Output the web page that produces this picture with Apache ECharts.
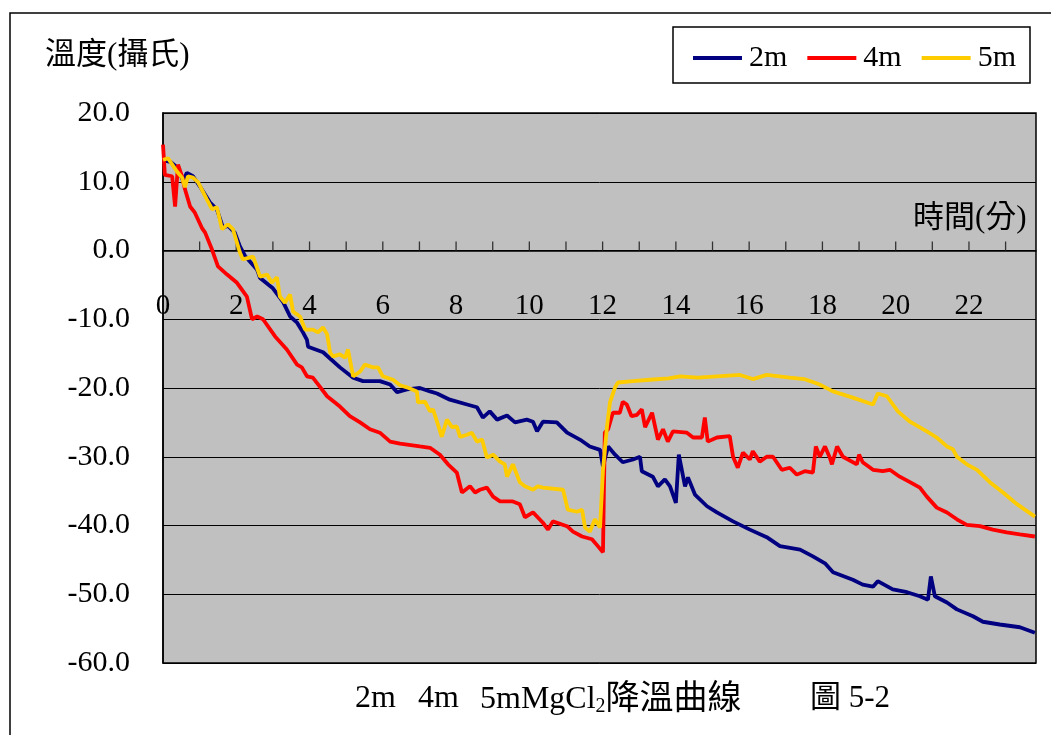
<!DOCTYPE html>
<html>
<head>
<meta charset="utf-8">
<script src="https://cdn.jsdelivr.net/npm/echarts@6/dist/echarts.min.js"></script>
<style>html,body{margin:0;padding:0;background:#fff;}#c{width:1051px;height:735px;}</style>
</head>
<body>
<div id="c"></div>
<script>
// Time (min) / temperature (°C) readings per series
var series2m = [[0,13.1],[0.2,12.9],[0.38,12.1],[0.55,10.1],[0.65,11.3],[0.82,10.8],[1.01,9.3],[1.28,7.0],[1.47,6.0],[1.64,3.3],[1.77,3.6],[1.96,2.6],[2.10,0.6],[2.24,-0.8],[2.57,-2.8],[2.65,-4.0],[3.0,-5.5],[3.28,-7.5],[3.47,-9.6],[3.66,-10.5],[3.82,-11.9],[3.93,-13.0],[3.96,-14.0],[4.37,-14.8],[4.83,-17.0],[5.19,-18.5],[5.46,-19.0],[5.92,-19.0],[6.20,-19.5],[6.39,-20.6],[6.66,-20.2],[7.01,-20.0],[7.29,-20.5],[7.48,-20.8],[7.83,-21.7],[8.30,-22.4],[8.57,-22.8],[8.73,-24.3],[8.92,-23.4],[9.12,-24.6],[9.39,-24.0],[9.61,-25.0],[9.93,-24.6],[10.10,-24.9],[10.21,-26.3],[10.37,-24.9],[10.75,-25.0],[11.03,-26.5],[11.38,-27.5],[11.65,-28.5],[11.93,-29.0],[12.01,-31.4],[12.15,-28.5],[12.34,-29.7],[12.55,-30.8],[12.83,-30.4],[13.02,-30.0],[13.07,-32.1],[13.37,-32.9],[13.51,-34.3],[13.70,-33.3],[13.84,-34.3],[14.00,-36.7],[14.08,-29.7],[14.25,-34.3],[14.33,-33.0],[14.52,-35.5],[14.85,-37.2],[15.12,-38.1],[15.56,-39.4],[16.02,-40.6],[16.48,-41.7],[16.84,-43.0],[17.39,-43.5],[17.74,-44.5],[18.07,-45.5],[18.29,-46.8],[18.83,-47.9],[19.10,-48.6],[19.38,-48.9],[19.51,-48.1],[19.92,-49.3],[20.31,-49.7],[20.66,-50.3],[20.88,-50.8],[20.96,-47.4],[21.07,-50.3],[21.40,-51.2],[21.67,-52.2],[22.11,-53.2],[22.38,-54.0],[22.84,-54.4],[23.39,-54.8],[23.80,-55.6]];
var series4m = [[0,15.4],[0.05,11.0],[0.25,10.8],[0.33,6.4],[0.41,12.5],[0.52,10.8],[0.60,8.9],[0.74,6.4],[0.87,5.5],[1.06,3.3],[1.15,2.6],[1.34,0.1],[1.50,-2.3],[1.75,-3.5],[2.02,-4.7],[2.29,-6.7],[2.43,-10.0],[2.57,-9.6],[2.73,-10.0],[3.06,-12.5],[3.38,-14.4],[3.66,-16.6],[3.79,-17.0],[3.93,-18.3],[4.09,-18.5],[4.28,-19.8],[4.48,-21.2],[4.83,-22.7],[5.10,-24.1],[5.38,-25.0],[5.65,-26.0],[5.92,-26.5],[6.20,-27.8],[6.47,-28.1],[7.01,-28.5],[7.29,-28.7],[7.56,-29.7],[7.78,-31.1],[8.02,-32.3],[8.16,-35.2],[8.38,-34.3],[8.52,-35.2],[8.65,-34.8],[8.84,-34.5],[9.01,-35.8],[9.20,-36.5],[9.55,-36.5],[9.74,-36.9],[9.88,-38.8],[10.10,-38.1],[10.37,-39.6],[10.51,-40.6],[10.64,-39.4],[11.03,-40.1],[11.19,-40.9],[11.44,-41.6],[11.71,-42.0],[11.87,-43.0],[12.01,-43.9],[12.06,-26.5],[12.15,-26.0],[12.28,-23.6],[12.47,-23.6],[12.55,-22.0],[12.66,-22.4],[12.79,-24.1],[12.94,-23.9],[13.07,-23.1],[13.16,-25.7],[13.35,-23.6],[13.51,-27.5],[13.65,-26.0],[13.78,-27.8],[13.92,-26.3],[14.30,-26.5],[14.47,-27.2],[14.71,-27.2],[14.79,-24.3],[14.87,-27.8],[15.12,-27.2],[15.47,-27.0],[15.56,-30.0],[15.69,-31.6],[15.83,-29.4],[16.02,-30.4],[16.10,-29.2],[16.29,-30.7],[16.48,-30.0],[16.65,-30.0],[16.89,-31.9],[17.11,-31.6],[17.30,-32.6],[17.52,-32.1],[17.74,-32.3],[17.82,-28.5],[17.93,-30.0],[18.07,-28.5],[18.20,-30.1],[18.26,-31.1],[18.40,-28.5],[18.56,-30.0],[18.94,-31.1],[19.00,-29.7],[19.10,-30.8],[19.38,-31.9],[19.65,-32.1],[19.84,-31.9],[20.11,-32.9],[20.39,-33.7],[20.66,-34.5],[20.85,-35.8],[21.12,-37.4],[21.40,-38.1],[21.67,-39.1],[21.94,-39.9],[22.30,-40.1],[22.65,-40.6],[23.03,-41.0],[23.39,-41.3],[23.80,-41.6]];
var series5m = [[0,13.2],[0.14,13.4],[0.38,11.5],[0.52,10.6],[0.60,9.2],[0.68,10.8],[0.82,10.6],[0.96,9.9],[1.20,7.4],[1.34,6.0],[1.47,6.3],[1.61,3.1],[1.77,3.8],[1.91,3.1],[2.10,-0.3],[2.18,-1.3],[2.46,-0.9],[2.65,-3.8],[2.84,-3.5],[2.97,-4.7],[3.11,-3.9],[3.19,-6.7],[3.33,-7.6],[3.47,-6.4],[3.55,-8.9],[3.74,-9.6],[3.88,-11.5],[4.09,-11.5],[4.23,-11.9],[4.37,-11.2],[4.48,-12.2],[4.56,-14.8],[4.64,-15.4],[4.83,-15.1],[4.97,-15.6],[5.05,-14.4],[5.19,-18.3],[5.38,-17.6],[5.51,-16.6],[5.73,-17.0],[5.87,-17.0],[6.00,-18.3],[6.28,-18.8],[6.47,-19.6],[6.66,-19.9],[6.93,-20.5],[6.96,-22.1],[7.15,-22.0],[7.29,-23.4],[7.37,-23.1],[7.48,-24.9],[7.61,-27.1],[7.75,-24.6],[7.89,-25.7],[8.02,-25.6],[8.11,-27.1],[8.30,-26.8],[8.43,-26.5],[8.57,-27.8],[8.71,-27.5],[8.84,-30.1],[9.01,-29.7],[9.20,-30.7],[9.33,-31.1],[9.39,-32.9],[9.55,-31.1],[9.74,-33.7],[9.88,-34.3],[10.10,-34.8],[10.23,-34.3],[10.37,-34.5],[10.92,-34.8],[11.05,-37.7],[11.30,-38.0],[11.44,-37.7],[11.52,-40.3],[11.65,-40.9],[11.79,-39.1],[11.93,-40.3],[12.01,-31.9],[12.12,-25.6],[12.20,-22.1],[12.34,-19.9],[12.42,-19.2],[12.83,-19.0],[13.29,-18.8],[13.8,-18.6],[14.11,-18.3],[14.6,-18.5],[15.12,-18.3],[15.75,-18.1],[16.10,-18.7],[16.48,-18.1],[17.11,-18.5],[17.5,-18.7],[17.93,-19.5],[18.29,-20.5],[18.83,-21.4],[19.38,-22.4],[19.51,-20.8],[19.76,-21.2],[20.06,-23.4],[20.39,-24.9],[20.85,-26.3],[21.12,-27.2],[21.40,-28.5],[21.56,-28.9],[21.67,-30.0],[21.94,-31.1],[22.22,-31.9],[22.57,-33.7],[22.93,-35.2],[23.31,-36.9],[23.80,-38.7]];
var seriesNames = ['2m', '4m', '5m'];
var seriesColors = ['#000080', '#ff0000', '#ffcc00'];
var xTickLabels = [0, 2, 4, 6, 8, 10, 12, 14, 16, 18, 20, 22];
var xTickMarks = [1, 2, 3, 4, 5, 6, 7, 8, 9, 10, 11, 12, 13, 14, 15, 16, 17, 18, 19, 20, 21, 22, 23];
var yTickLabels = [20, 10, 0, -10, -20, -30, -40, -50, -60];

var FONT = "'Liberation Serif', 'Noto Sans CJK TC', serif";
var Y_MIN = -60, Y_MAX = 20;
var GRID = { left: 163, right: 15, top: 113, bottom: 72 };
var plotH = 735 - GRID.top - GRID.bottom;
// move the x axis up to the y = 0 line
var zeroOffset = -plotH * (0 - Y_MIN) / (Y_MAX - Y_MIN);

var chart = echarts.init(document.getElementById('c'));
var allData = [series2m, series4m, series5m];
var lineSeries = allData.map(function (d, i) {
  return {
    name: seriesNames[i], type: 'line', data: d, symbol: 'none', z: 3 + i,
    lineStyle: { color: seriesColors[i], width: 3.8 }, itemStyle: { color: seriesColors[i] }
  };
});
var baseGraphics = [
  { type: 'rect', z: -10, silent: true, shape: { x: 10, y: 13, width: 1100, height: 800 }, style: { fill: 'none', stroke: '#000', lineWidth: 1.5 } },
  { type: 'rect', z: 1, silent: true, shape: { x: 673, y: 27, width: 357, height: 56 }, style: { fill: '#fff', stroke: '#000', lineWidth: 1.5 } },
  { type: 'text', z: 5, left: 45, top: 40, style: { text: '溫度(攝氏)', font: "31px " + FONT, fill: '#000' } },
  { type: 'text', z: 5, left: 913, top: 203, style: { text: '時間(分)', font: "31px " + FONT, fill: '#000' } },
  { type: 'text', z: 5, left: 355, top: 683, style: { text: '2m', font: "32px " + FONT, fill: '#000' } },
  { type: 'text', z: 5, left: 418, top: 683, style: { text: '4m', font: "32px " + FONT, fill: '#000' } },
  { type: 'text', z: 5, left: 480, top: 683, style: { text: '5mMgCl{s|2}{c|降溫曲線}', font: "32px " + FONT, fill: '#000',
      rich: { s: { fontSize: 20, fontFamily: FONT, padding: [14, 0, 0, 0] }, c: { fontSize: 34, fontFamily: FONT } } } },
  { type: 'text', z: 5, left: 810, top: 683, style: { text: '圖 5-2', font: "31px " + FONT, fill: '#000' } }
];
chart.setOption({
  animation: false,
  backgroundColor: '#ffffff',
  grid: { left: GRID.left, right: GRID.right, top: GRID.top, bottom: GRID.bottom, show: true, backgroundColor: '#c0c0c0', borderColor: '#000', borderWidth: 1.5 },
  xAxis: {
    type: 'value', min: 0, max: 23.83, interval: 1, position: 'bottom', offset: zeroOffset,
    axisLine: { show: true, onZero: false, lineStyle: { color: '#000', width: 1.5 } },
    axisTick: { show: false },
    axisLabel: {
      margin: 41, color: '#000', fontFamily: FONT, fontSize: 29,
      showMaxLabel: false,
      formatter: function (v) { return xTickLabels.indexOf(v) >= 0 ? String(v) : ''; }
    },
    splitLine: { show: false }
  },
  yAxis: {
    type: 'value', min: Y_MIN, max: Y_MAX, interval: 10,
    axisLine: { show: true, onZero: false, lineStyle: { color: '#000', width: 1.5 } },
    axisTick: { show: false },
    axisLabel: {
      margin: 33, color: '#000', fontFamily: FONT, fontSize: 30,
      formatter: function (v) { return yTickLabels.indexOf(v) >= 0 ? v.toFixed(1) : ''; }
    },
    splitLine: { show: true, lineStyle: { color: '#000', width: 1 } }
  },
  legend: {
    left: 688, top: 38, z: 10,
    itemWidth: 49, itemHeight: 4, itemGap: 20, icon: 'rect',
    textStyle: { fontFamily: FONT, fontSize: 30, color: '#000', padding: [0, 0, 0, 2] },
    data: seriesNames
  },
  graphic: baseGraphics,
  series: lineSeries
});
// tick marks on the zero line, positioned through the chart's own scales
var tickGraphics = xTickMarks.map(function (t) {
  var p = chart.convertToPixel({ gridIndex: 0 }, [t, 0]);
  return { type: 'line', z: 2, silent: true, shape: { x1: p[0], y1: p[1], x2: p[0], y2: p[1] - 9 }, style: { stroke: '#333', lineWidth: 1.3 } };
});
chart.setOption({ graphic: baseGraphics.concat(tickGraphics) });
</script>
</body>
</html>
